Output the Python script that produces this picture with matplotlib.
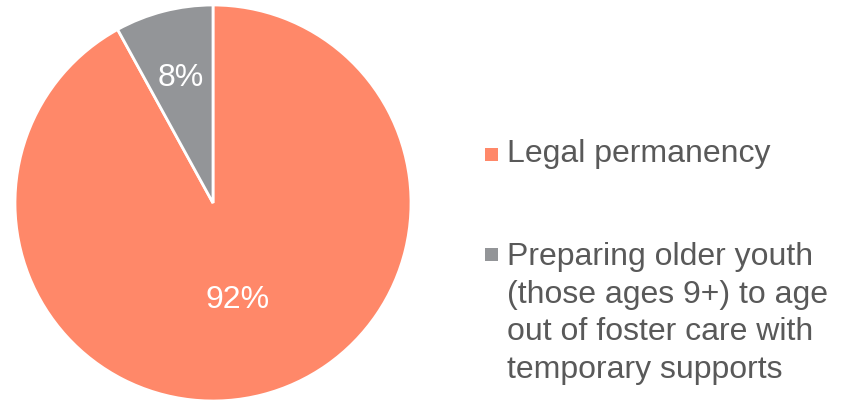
import matplotlib.pyplot as plt
from matplotlib.patches import Rectangle

plt.rcParams["font.family"] = ["Liberation Sans", "DejaVu Sans"]

labels = [
    "Legal permanency",
    "Preparing older youth\n(those ages 9+) to age\nout of foster care with\ntemporary supports",
]
shares = [92, 8]
colors = ["#FF8869", "#939598"]

W, H = 846, 401
fig = plt.figure(figsize=(W / 100, H / 100), dpi=100)
# pie box: 396 px square, left edge at x=15
ax = fig.add_axes([15 / W, 0 / H, 396 / W, 396 / H])

wedges, texts, pcts = ax.pie(
    shares,
    colors=colors,
    startangle=90,
    counterclock=False,
    radius=1,
    autopct="%d%%",
    pctdistance=0.65,
    wedgeprops=dict(edgecolor="white", linewidth=2),
    textprops=dict(color="white", fontsize=23),
)
# the big slice label sits closer to the centre
x, y = pcts[0].get_position()
pcts[0].set_position((x * 0.78, y * 0.78))

ax.set_xlim(-1.0, 1.0)
ax.set_ylim(-1.0, 1.0)
ax.set_aspect("equal")
ax.axis("off")

# legend drawn by hand so the key lines up with the first text line
key_base = [162, 262]    # first-line baseline, px from top
text_base = [162, 378]   # last-line baseline (va="baseline" uses the last line)
for label, color, kb, tb in zip(labels, colors, key_base, text_base):
    fig.add_artist(Rectangle((485 / W, 1 - (kb - 1) / H), 13 / W, 13 / H,
                             transform=fig.transFigure, facecolor=color,
                             edgecolor="none"))
    fig.text(507 / W, 1 - tb / H, label, fontsize=23, color="#595959",
             ha="left", va="baseline", linespacing=1.33)

fig.savefig("out.png", dpi=100)
